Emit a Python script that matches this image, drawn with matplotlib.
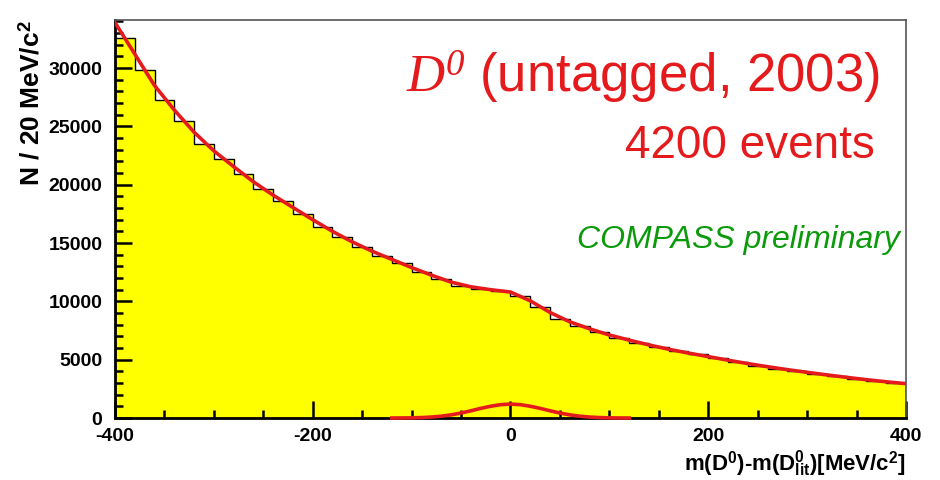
import numpy as np
import matplotlib
matplotlib.use("Agg")
import matplotlib.pyplot as plt

plt.rcParams['font.family'] = ['Liberation Sans', 'DejaVu Sans']
plt.rcParams['axes.unicode_minus'] = False
plt.rcParams['mathtext.fontset'] = 'custom'
plt.rcParams['mathtext.rm'] = 'Liberation Sans:bold'
plt.rcParams['mathtext.bf'] = 'Liberation Sans:bold'
plt.rcParams['mathtext.it'] = 'Liberation Serif:italic'
plt.rcParams['mathtext.sf'] = 'Liberation Serif:italic'

# histogram: 40 bins of 20 MeV from -400 to 400
bin_edges = np.arange(-400, 401, 20)
counts = [32600, 29800, 27300, 25500, 23500, 22200, 20900, 19600, 18600, 17500,
          16400, 15500, 14650, 13900, 13250, 12500, 11900, 11300, 11050, 10900,
          10450, 9500, 8500, 7900, 7350, 6850, 6400, 6100, 5750, 5450,
          5120, 4800, 4500, 4230, 4000, 3780, 3570, 3370, 3180, 3020]

# total fit, read at the bin edges
fit_x = np.arange(-400, 401, 20)
fit_y = [33900, 31200, 28500, 26400, 24500, 22900, 21550, 20250, 19100, 18050,
         17000, 16000, 15100, 14300, 13600, 12900, 12250, 11650, 11250, 11000,
         10800, 10050, 9050, 8250, 7650, 7120, 6680, 6270, 5900, 5570,
         5270, 4960, 4670, 4400, 4150, 3920, 3700, 3490, 3290, 3110, 2950]

# signal peak
sig_x = np.arange(-120, 121, 10)
sig_y = [5, 10, 20, 44, 87, 162, 276, 432, 625, 833, 1015, 1150, 1200,
         1150, 1015, 833, 625, 432, 276, 162, 87, 44, 20, 10, 5]

fig = plt.figure(figsize=(9.4, 4.8), dpi=100)
ax = fig.add_axes([0.1223, 0.129, 0.8415, 0.829])

ax.stairs(counts, bin_edges, fill=True, color='#ffff00', zorder=1)
ax.stairs(counts, bin_edges, color='black', lw=1.0, zorder=2)
ax.plot(fit_x, fit_y, color='#e41a1c', lw=2.6, zorder=3)
ax.plot(sig_x, sig_y, color='#e41a1c', lw=2.6, zorder=3, clip_on=False)

ax.set_xlim(-400, 400)
ax.set_ylim(0, 34100)
ax.set_xticks([-400, -200, 0, 200, 400])
ax.set_xticks(np.arange(-400, 401, 50), minor=True)
ax.set_yticks(np.arange(0, 30001, 5000))
ax.set_yticks(np.arange(0, 34001, 1000), minor=True)
ax.tick_params(which='both', direction='in', width=1.8, labelsize=14)
ax.tick_params(which='major', length=12)
ax.tick_params(which='minor', length=5.5)
ax.tick_params(axis='x', pad=7, labelsize=14)
ax.tick_params(axis='y', pad=9)
for lab in ax.get_xticklabels() + ax.get_yticklabels():
    lab.set_fontweight('bold')

for s in ['left', 'bottom']:
    ax.spines[s].set_linewidth(2.0)
for s in ['top', 'right']:
    ax.spines[s].set_linewidth(1.2)
    ax.spines[s].set_color('#555555')

ax.set_ylabel(r'N / 20 MeV/c$^{2}$', fontsize=19, fontweight='bold')
ax.yaxis.set_label_coords(-0.09, 1.0)
ax.yaxis.label.set_ha('right')
ax.set_xlabel(r'm(D$^{0}$)-m(D$^{0}_{\mathbf{lit}}$)[MeV/c$^{2}$]', fontsize=16,
              fontweight='bold')
ax.xaxis.set_label_coords(1.0, -0.077)
ax.xaxis.label.set_ha('right')
ax.xaxis.label.set_va('top')

fig.text(0.936, 0.808, r'$\mathsf{D^0}$ (untagged, 2003)', color='#e41a1c',
         fontsize=38, ha='right', va='baseline')
fig.text(0.931, 0.671, '4200 events', color='#e41a1c', fontsize=33,
         ha='right', va='baseline')
fig.text(0.957, 0.483, 'COMPASS preliminary', color='#0a9a0a', fontsize=23,
         style='italic', ha='right', va='baseline')

fig.savefig('out.png', dpi=100)
